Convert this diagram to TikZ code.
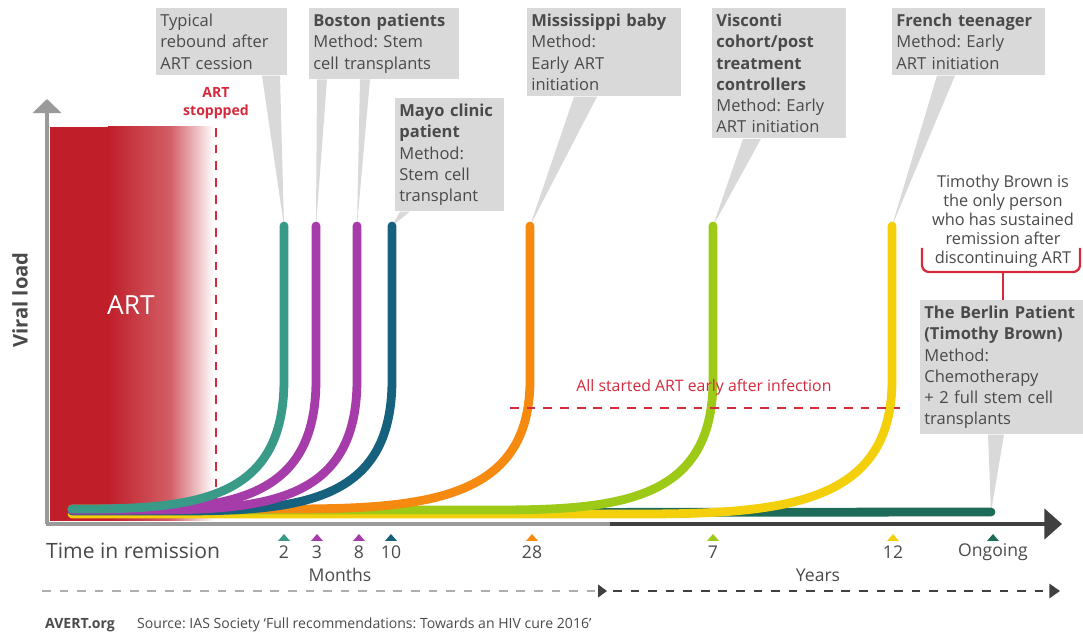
\documentclass[tikz,border=0pt]{standalone}
\usepackage{fontspec}
\setmainfont{Open Sans}
\usetikzlibrary{arrows.meta,calc}
\frenchspacing

\definecolor{boxgray}{HTML}{D9D9D9}
\definecolor{txtgray}{HTML}{4A4A4A}
\definecolor{artred}{HTML}{C01F2A}
\definecolor{stopred}{HTML}{D42A3C}
\definecolor{cTeal}{HTML}{3A9A88}
\definecolor{cPurple}{HTML}{A63BAA}
\definecolor{cBlue}{HTML}{16617D}
\definecolor{cOrange}{HTML}{F6890F}
\definecolor{cLime}{HTML}{9DCA17}
\definecolor{cYellow}{HTML}{F4D00C}
\definecolor{cPine}{HTML}{1E6B59}
\definecolor{axgray}{HTML}{9A9A9A}
\definecolor{axdark}{HTML}{404040}

\newcommand\nohyph{\hyphenpenalty10000\relax}

\tikzset{
  callout/.style={fill=boxgray, text=txtgray, anchor=north west, align=left,
    inner xsep=0.08cm, inner ysep=0.12cm,
    font=\fontsize{9.4}{12}\selectfont,
    execute at begin node=\nohyph},
  curve/.style={line width=5pt, line cap=round},
  ticklbl/.style={text=txtgray, font=\fontsize{10}{12}\selectfont},
  reddash/.style={stopred, line width=1.6pt, dash pattern=on 5pt off 4.5pt},
}

\begin{document}
\begin{tikzpicture}[x=0.02cm, y=-0.02cm]
  \useasboundingbox[fill=white] (0,0) rectangle (1083,634);

  % ART block
  \fill[artred] (50,127) rectangle (108,521);
  \shade[left color=artred, right color=artred!72!white] (108,127) rectangle (170,521);
  \shade[left color=artred!72!white, right color=white] (170,127) rectangle (214,521);
  \node[text=white, font=\fontsize{15}{18}\selectfont] (art) at (131,305) {ART};
  \node[text=txtgray, font=\bfseries\fontsize{11.5}{14}\selectfont, rotate=90] (vload) at (20,300) {Viral load};

  \coordinate (stopTop) at (216,128);
  \coordinate (stopBot) at (216,516);
  \draw[reddash] (stopTop) -- (stopBot);
  \node[text=stopred, font=\bfseries\fontsize{8}{10}\selectfont, align=center] (stoptxt) at (216,103) {ART\\stoppped};

  % curve tops
  \coordinate (m2) at (284,226);
  \coordinate (m3) at (316,226);
  \coordinate (m8) at (357,226);
  \coordinate (m10) at (392,226);
  \coordinate (m28) at (530,226);
  \coordinate (y7) at (713,226);
  \coordinate (y12) at (892,226);
  \coordinate (ongo) at (991,512);

  % callouts
  \node[callout, text width=2.46cm] (typ) at (156,8) {Typical\\rebound after\\ART cession};
  \node[callout, text width=2.84cm] (bos) at (309,8) {\textbf{Boston patients}\\Method: Stem\\cell transplants};
  \node[callout, text width=2.02cm] (mayo) at (395,98) {\textbf{Mayo clinic}\\\textbf{patient}\\Method:\\Stem cell\\transplant};
  \node[callout, text width=2.92cm] (miss) at (527,8) {\textbf{Mississippi baby}\\Method:\\Early ART\\initiation};
  \node[callout, text width=2.52cm] (visc) at (712,8) {\textbf{Visconti}\\\textbf{cohort/post}\\\textbf{treatment}\\\textbf{controllers}\\Method: Early\\ART initiation};
  \node[callout, text width=2.90cm] (fren) at (892,8) {\textbf{French teenager}\\Method: Early\\ART initiation};
  \node[callout, text width=3.10cm] (berl) at (920,300) {\textbf{The Berlin Patient}\\\textbf{(Timothy Brown)}\\Method:\\Chemotherapy\\+ 2 full stem cell\\transplants};

  % pointers
  \fill[boxgray] ($(typ.south west)+(106,0)$) -- ($(typ.south west)+(124,0)$) -- (m2) -- cycle;
  \fill[boxgray] ($(bos.south west)+(8,0)$) -- ($(bos.south west)+(18,0)$) -- (m3) -- cycle;
  \fill[boxgray] ($(bos.south west)+(51,0)$) -- ($(bos.south west)+(61,0)$) -- (m8) -- cycle;
  \fill[boxgray] ($(mayo.south west)+(5,0)$) -- ($(mayo.south west)+(15,0)$) -- (m10) -- cycle;
  \fill[boxgray] ($(miss.south west)+(47,0)$) -- ($(miss.south west)+(70,0)$) -- (m28) -- cycle;
  \fill[boxgray] ($(visc.south west)+(31,0)$) -- ($(visc.south west)+(49,0)$) -- (y7) -- cycle;
  \fill[boxgray] ($(fren.south west)+(45,0)$) -- ($(fren.south west)+(63,0)$) -- (y12) -- cycle;
  \fill[boxgray] ($(berl.south west)+(68,0)$) -- ($(berl.south west)+(84,0)$) -- (ongo) -- cycle;

  % viral load curves, back to front
  \draw[curve, cPine] (72,513) -- (ongo);
  \foreach \xx/\kk/\bb/\cc in {892/105/514/cYellow, 713/90/510/cLime, 530/100/509/cOrange,
      392/88/511/cBlue, 357/86/510/cPurple, 316/85/510/cPurple, 284/84/509/cTeal}
    \draw[curve, \cc] (72,\bb) -- ({\xx-2.4*\kk},\bb)
      .. controls ({\xx-\kk},\bb) and (\xx,{\bb-11}) .. (\xx,380) -- (\xx,226);

  \coordinate (earlyL) at (510,408);
  \coordinate (earlyR) at (900,408);
  \draw[reddash] (earlyL) -- (earlyR);
  \node[text=stopred, font=\fontsize{9}{11}\selectfont] (early) at (704,387) {All started ART early after infection};

  % axes
  \coordinate (orig) at (47,524);
  \coordinate (ytip) at (47,99);
  \coordinate (xmid) at (610,524);
  \coordinate (xtip) at (1062,524);
  \draw[axgray, line width=2.8pt, -{Triangle[width=16pt,length=8pt]}] (orig) -- (ytip);
  \draw[axgray, line width=2.8pt] ($(orig)+(-1.5,0)$) -- (xmid);
  \draw[axdark, line width=2.8pt, -{Triangle[width=17pt,length=10pt]}] (xmid) -- (xtip);

  % time marks
  \foreach \xx/\cc/\ll in {284/cTeal/2, 317/cPurple/3, 359/cPurple/8, 391/cBlue/10,
      532/cOrange/28, 713/cLime/7, 893/cYellow/12, 993/cPine/Ongoing} {
    \fill[\cc] (\xx-6,541) -- (\xx+6,541) -- (\xx,534) -- cycle;
    \node[ticklbl] (lbl\ll) at (\xx,552) {\ll};
  }
  \node[text=txtgray, anchor=west, font=\fontsize{12}{14}\selectfont] (trem) at (40,551) {Time in remission};
  \node[ticklbl] (months) at (340,575) {Months};
  \node[ticklbl] (years) at (818,575) {Years};

  \coordinate (mleft) at (42,591);
  \coordinate (mmid) at (607,591);
  \coordinate (yend) at (1060,591);
  \draw[axgray!80, line width=1.4pt, dash pattern=on 5pt off 5pt, -{Triangle[width=7pt,length=5pt,axdark]}] (mleft) -- (mmid);
  \draw[axdark, line width=1.4pt, dash pattern=on 5pt off 5pt, -{Triangle[width=8pt,length=6pt]}] ($(mmid)+(6,0)$) -- (yend);

  % Timothy Brown note
  \node[text=txtgray, align=center, font=\fontsize{9.3}{10.8}\selectfont] (tim) at (1003,221) {Timothy Brown is\\the only person\\who has sustained\\remission after\\discontinuing ART};
  \coordinate (brk) at (1003,272);
  \draw[stopred, line width=1.3pt, rounded corners=4pt] (922,248) -- (922,272) -- (1080,272) -- (1080,248);
  \draw[stopred, line width=1.3pt] (brk) -- (brk |- berl.north);

  % footer
  \node[text=txtgray, anchor=west, font=\bfseries\fontsize{8}{10}\selectfont] (avert) at (39,625) {AVERT.org};
  \node[text=txtgray, anchor=west, font=\fontsize{8}{10}\selectfont] (src) at (131,625) {Source: IAS Society `Full recommendations: Towards an HIV cure 2016'};
\end{tikzpicture}
\end{document}
